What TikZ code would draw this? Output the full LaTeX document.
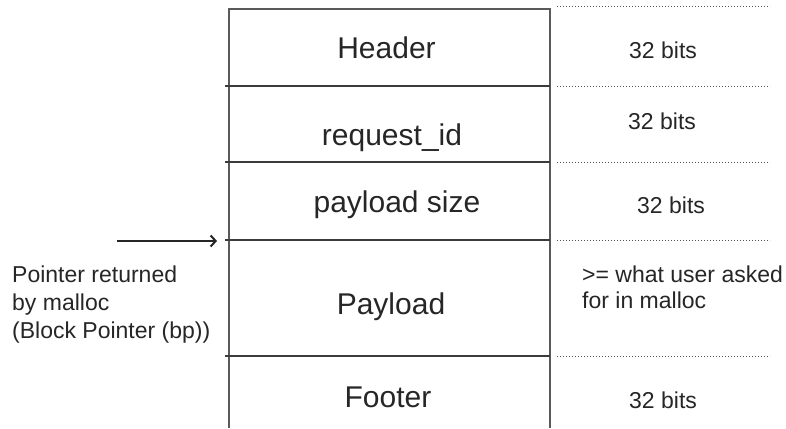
\documentclass[tikz,border=0pt]{standalone}
\usepackage{fontspec}
\setmainfont{Liberation Sans}
\usetikzlibrary{arrows.meta}
\definecolor{ink}{HTML}{262626}
\definecolor{rule}{HTML}{3C3C3C}
\definecolor{wall}{HTML}{5A5A5A}
\definecolor{dots}{HTML}{555555}
\tikzset{
  field/.style={anchor=base, inner sep=0pt, text=ink, font=\fontsize{30}{36}\selectfont},
  size/.style={anchor=base west, inner sep=0pt, text=ink, align=left, font=\fontsize{23}{26}\selectfont},
  note/.style={anchor=base west, inner sep=0pt, text=ink, align=left},
  divider/.style={draw=rule, line width=1.5pt},
  side/.style={draw=wall, line width=1.6pt},
  guide/.style={draw=dots, line width=1pt, dash pattern=on 1pt off 2pt},
  pointer/.style={draw=ink, line width=2.6pt, -{Straight Barb[length=5pt,width=11pt,line width=2pt]}}
}
\begin{document}
\begin{tikzpicture}[x=1pt,y=-1pt]
\useasboundingbox (0,0) rectangle (786,428);

% block walls (open at the bottom)
\draw[side] (229,428) -- (229,9) -- (550,9) -- (550,428);

% field boundaries
\foreach \y in {86,162,240,356}
  \draw[divider] (225,\y) -- (550,\y);

% size guides on the right
\foreach \y in {7,86,162,240,356}
  \draw[guide] (557,\y) -- (770,\y);

% field names
\node[field] (hdr) at (386.5,59) {Header};
\node[field] (rid) at (392,145) {request\_id};
\node[field] (psz) at (397,212) {payload size};
\node[field] (pay) at (391,314) {Payload};
\node[field] (ftr) at (388,407) {Footer};

% field sizes (multi-line nodes sit on their last baseline)
\node[size] (s1) at (629,59) {32 bits};
\node[size] (s2) at (628,129) {32 bits};
\node[size] (s3) at (637,213) {32 bits};
\node[size] (s4) at (582,308) {>= what user asked\\for in malloc};
\node[size] (s5) at (629,408) {32 bits};

% block pointer
\node[note, font=\fontsize{23}{28}\selectfont] (ptr) at (12,338)
  {Pointer returned\\by malloc\\(Block Pointer (bp))};
\coordinate (from) at (117,241);
\coordinate (bp) at (217,241);
\draw[pointer] (from) -- (bp);
\end{tikzpicture}
\end{document}
